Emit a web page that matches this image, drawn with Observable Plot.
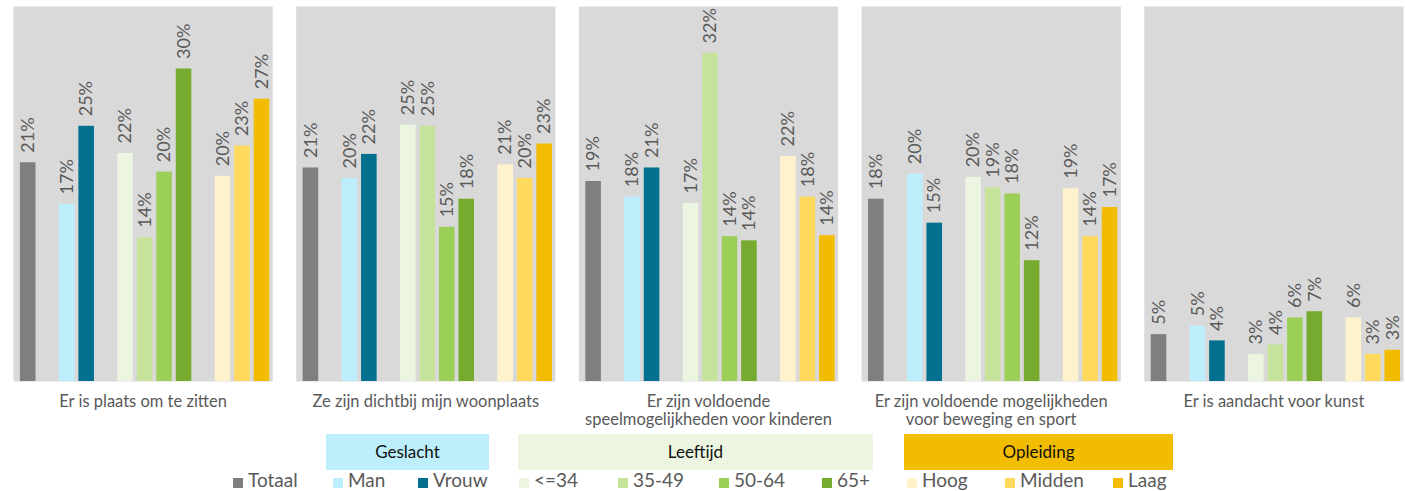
<!DOCTYPE html>
<html><head><meta charset="utf-8">
<script src="https://cdn.jsdelivr.net/npm/d3@7"></script>
<script src="https://cdn.jsdelivr.net/npm/@observablehq/plot@0.6"></script>
<style>
body{margin:0;background:#fff;font-family:Lato,sans-serif;overflow:hidden;}
#legend{position:relative;width:1405px;height:59px;}
.hdr{position:absolute;top:2px;height:36px;line-height:36px;text-align:center;font-size:17px;color:#111;}
.item{position:absolute;top:36px;height:23px;line-height:23px;font-size:19px;color:#595959;white-space:nowrap;}
.sw{display:inline-block;width:10px;height:10px;margin-right:5px;vertical-align:-1px;}
</style></head><body><div id="chart"></div><div id="legend"></div>
<script>
const questions = [
  "Er is plaats om te zitten",
  "Ze zijn dichtbij mijn woonplaats",
  "Er zijn voldoende\nspeelmogelijkheden voor kinderen",
  "Er zijn voldoende mogelijkheden\nvoor beweging en sport",
  "Er is aandacht voor kunst"
];
const categories = ["Totaal","Man","Vrouw","<=34","35-49","50-64","65+","Hoog","Midden","Laag"];
const colors = ["#7f7f7f","#bdeefb","#04708f","#ebf5df","#c5e39b","#9bcf57","#76ab2f","#fff2cc","#ffd95c","#f2bc00"];
const groupNames = ["Geslacht","Leeftijd","Opleiding"];
const groupColors = ["#bdeefb","#ebf5df","#f2bc00"];
const groupMembers = [["Totaal"],["Man","Vrouw"],["<=34","35-49","50-64","65+"],["Hoog","Midden","Laag"]];

// values in percent, per question, in category order
const plaatsOmTeZitten   = [21.0, 17.0, 24.5, 21.9, 13.8, 20.1, 30.0, 19.7, 22.6, 27.1];
const dichtbijWoonplaats = [20.5, 19.5, 21.8, 24.6, 24.5, 14.8, 17.5, 20.8, 19.5, 22.8];
const speelmogelijkheden = [19.2, 17.7, 20.5, 17.1, 31.5, 13.9, 13.5, 21.6, 17.7, 14.0];
const bewegingEnSport    = [17.5, 19.9, 15.2, 19.6, 18.6, 18.0, 11.6, 18.5, 13.9, 16.7];
const aandachtKunst      = [4.5, 5.3, 3.9, 2.6, 3.5, 6.1, 6.7, 6.1, 2.6, 3.0];
const series = [plaatsOmTeZitten, dichtbijWoonplaats, speelmogelijkheden, bewegingEnSport, aandachtKunst];

const xDomain = groupMembers.flatMap((g, i) => i ? ["gap" + i, ...g] : g);
const data = questions.flatMap((q, qi) => categories.map((c, ci) => ({q, c, v: series[qi][ci]})));

const chart = Plot.plot({
  width: 1405, height: 432,
  marginTop: 6, marginBottom: 51, marginLeft: 13, marginRight: 2,
  style: {fontFamily: "Lato, sans-serif", background: "#fff"},
  fx: {domain: questions, paddingInner: 0.083, paddingOuter: 0, label: null, round: false},
  x: {domain: xDomain, paddingInner: 0.2, paddingOuter: 0.254, align: 0.7, axis: null, round: false},
  y: {domain: [0, 36], axis: null},
  color: {domain: categories, range: colors},
  marks: [
    Plot.frame({fill: "#d9d9d9"}),
    Plot.barY(data, {fx: "q", x: "c", y: "v", fill: "c"}),
    Plot.text(data, {fx: "q", x: "c", y: "v", text: d => Math.round(d.v) + "%", rotate: -90,
      textAnchor: "start", lineAnchor: "middle", dy: -10, fontSize: 18, fill: "#595959"}),
    Plot.axisFx({anchor: "bottom", tickSize: 0, tickPadding: 13, fontSize: 16.5, lineHeight: 1.08,
      fill: "#595959", lineAnchor: "top", label: null})
  ]
});
document.getElementById("chart").append(chart);

// legend
const legend = document.getElementById("legend");
const hdrSpans = [[326, 489], [518, 873], [904, 1173]];
groupNames.forEach((n, i) => {
  const d = document.createElement("div");
  d.className = "hdr";
  d.style.left = hdrSpans[i][0] + "px";
  d.style.width = (hdrSpans[i][1] - hdrSpans[i][0]) + "px";
  d.style.background = groupColors[i];
  d.textContent = n;
  legend.append(d);
});
const itemLeft = [233, 333, 418, 519, 618, 719, 822, 907, 1005, 1113];
categories.forEach((c, i) => {
  const d = document.createElement("div");
  d.className = "item";
  d.style.left = itemLeft[i] + "px";
  const s = document.createElement("span");
  s.className = "sw"; s.style.background = colors[i];
  d.append(s, document.createTextNode(c));
  legend.append(d);
});
</script>
</body></html>
